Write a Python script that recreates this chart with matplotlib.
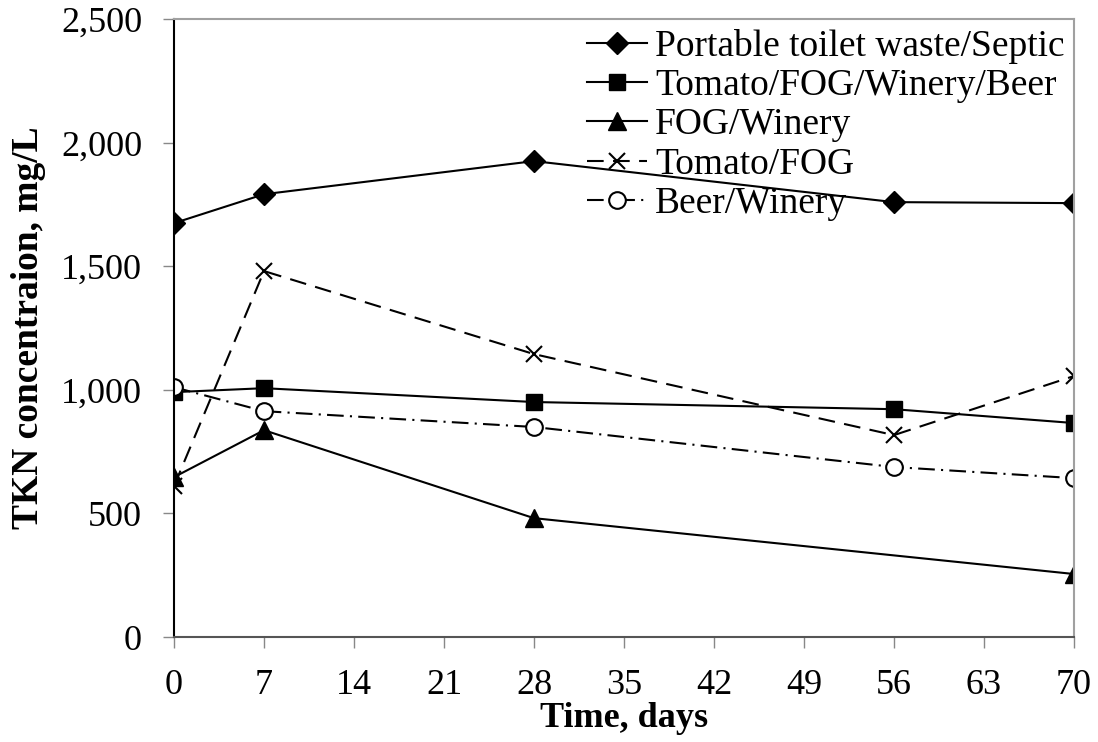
import matplotlib
matplotlib.use("Agg")
import matplotlib.pyplot as plt
from matplotlib.ticker import FuncFormatter

# TKN concentration over time for each co-digestion mix
dias = [0, 7, 28, 56, 70]
septico = [1675, 1792, 1926, 1760, 1756]
tomate_fog_vino_cerveza = [991, 1007, 951, 922, 866]
dias_fog_vino = [0, 7, 28, 70]
fog_vino = [647, 837, 481, 255]
tomate_fog = [611, 1481, 1145, 817, 1056]
cerveza_vino = [1011, 914, 850, 688, 643]

plt.rcParams['font.family'] = ['Liberation Serif', 'DejaVu Serif']

fig = plt.figure(figsize=(10.98, 7.42), dpi=100)
ax = fig.add_axes([0.1585, 0.1415, 0.8195, 0.8325])

ax.plot(dias, septico, color='black', lw=1.5, marker='D', ms=11,
        label='Portable toilet waste/Septic')
ax.plot(dias, tomate_fog_vino_cerveza, color='black', lw=1.5, marker='s', ms=12,
        label='Tomato/FOG/Winery/Beer')
ax.plot(dias_fog_vino, fog_vino, color='black', lw=1.5, marker='^', ms=13,
        label='FOG/Winery')
ax.plot(dias, tomate_fog, color='black', lw=1.5, marker='x', ms=12, mew=1.5,
        dashes=(8, 4.5), label='Tomato/FOG')
ax.plot(dias, cerveza_vino, color='black', lw=1.5, marker='o', ms=12,
        mfc='white', mew=1.5, dashes=(8, 3, 1, 3), label='Beer/Winery')

ax.set_xlim(0, 70)
ax.set_ylim(0, 2500)
ax.set_xticks(range(0, 71, 7))
ax.set_yticks(range(0, 2501, 500))
ax.yaxis.set_major_formatter(FuncFormatter(lambda v, p: f"{int(v):,}"))

# marco: izquierda negra, resto gris
ax.spines['left'].set_color('black')
ax.spines['left'].set_linewidth(1.5)
ax.spines['bottom'].set_color('#555555')
ax.spines['bottom'].set_linewidth(1.5)
for lado in ('top', 'right'):
    ax.spines[lado].set_color('#a0a0a0')
    ax.spines[lado].set_linewidth(1.5)

ax.tick_params(axis='both', direction='out', length=8, width=1, color='#888888')
ax.tick_params(axis='y', labelsize=26, pad=15)
ax.tick_params(axis='x', labelsize=26, pad=15)

ax.set_xlabel('Time, days', fontsize=26, fontweight='bold', labelpad=0)
ax.set_ylabel('TKN concentraion, mg/L', fontsize=27, fontweight='bold', labelpad=11)

ax.legend(loc='upper right', frameon=False, fontsize=27, labelspacing=0.13,
          handlelength=1.6, handletextpad=0.2, borderaxespad=0.1,
          borderpad=0.15)

fig.savefig('out.png', dpi=100)
